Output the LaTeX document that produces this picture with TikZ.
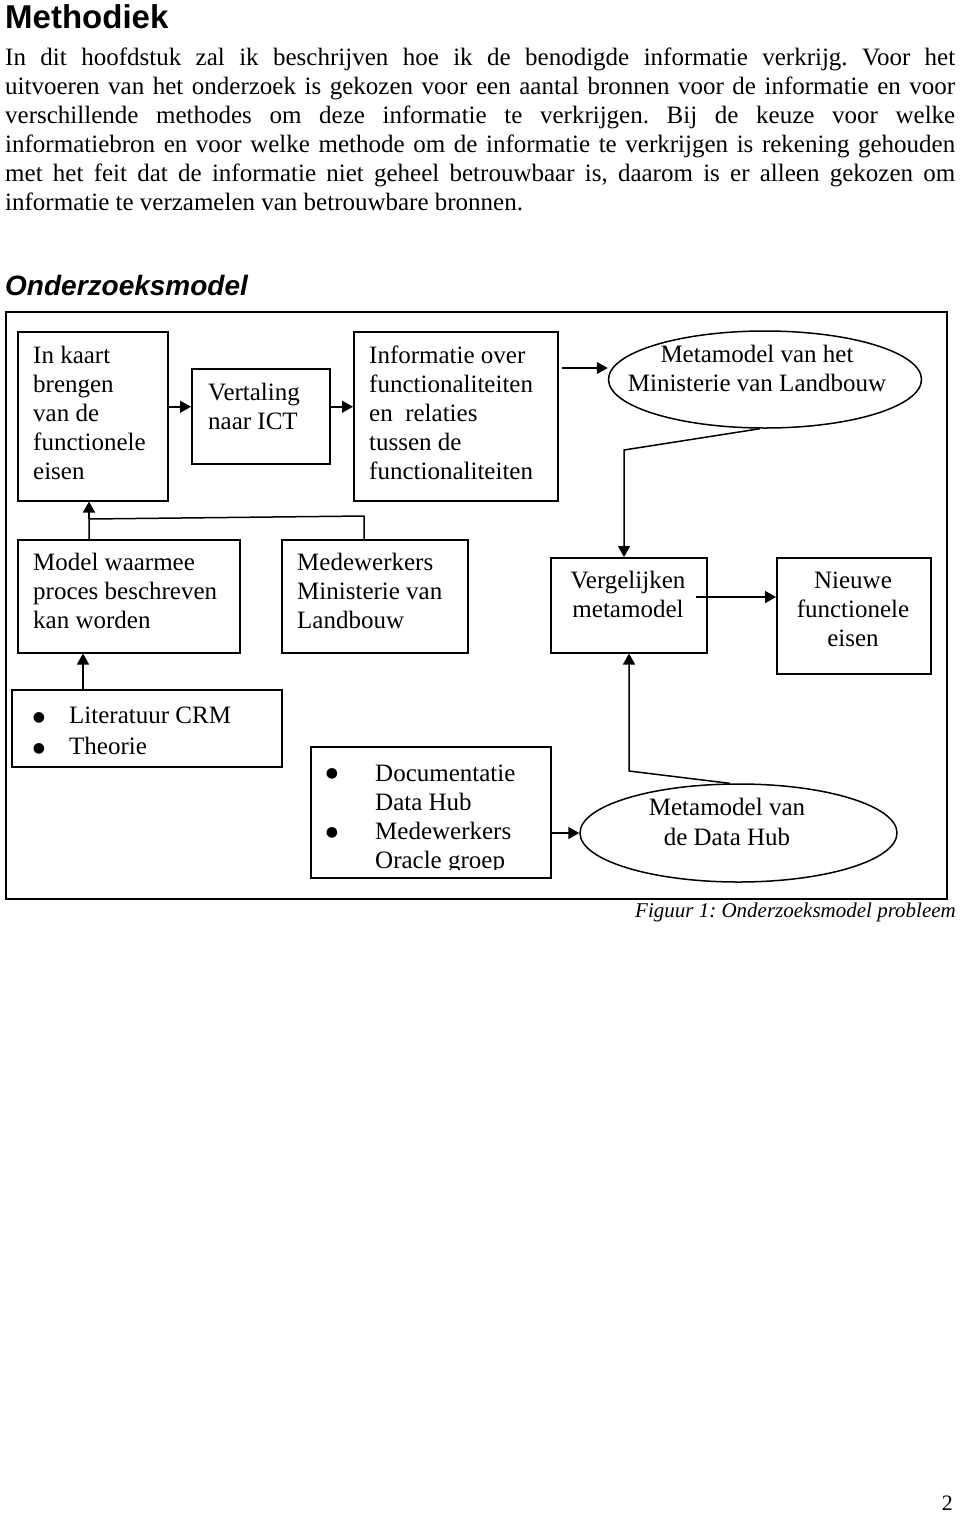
\documentclass[tikz,border=0pt]{standalone}
\usepackage{fontspec}
\setmainfont{Liberation Serif}
\newfontfamily\arialfont{Liberation Sans}
\newfontfamily\dejavufont{DejaVu Sans}
\usetikzlibrary{arrows.meta,shapes.geometric}
\frenchspacing
\newcommand\mylines[2][l]{\begin{tabular}[t]{@{}#1@{}}#2\end{tabular}}
\newcommand\jline[1]{\makebox[950pt][s]{#1}}
\newcommand\bodysize{\fontsize{25}{29}\selectfont}
\newcommand\bulsize{\dejavufont\fontsize{14}{17}\selectfont}
\begin{document}
\begin{tikzpicture}[x=1pt,y=-1pt,
  box/.style={draw, line width=1.5pt, rectangle, anchor=north west, inner sep=0pt},
  ell/.style={draw, line width=1.5pt, ellipse, inner sep=0pt},
  txt/.style={anchor=base west, inner sep=0pt, font=\bodysize},
  ctxt/.style={anchor=base, inner sep=0pt, font=\bodysize},
  bul/.style={anchor=base, inner sep=0pt, font=\bulsize},
  conn/.style={line width=1.5pt},
  arr/.style={line width=1.5pt, -{Triangle[length=11pt,width=12pt]}}]
\useasboundingbox (0,0) rectangle (960,1513);

% heading and paragraph
\node[anchor=base west, inner sep=0pt, font=\arialfont\bfseries\fontsize{33}{36}\selectfont] (h1) at (5,28) {Methodiek};
\node[txt] (par) at (5,65) {\mylines{%
\jline{In dit hoofdstuk zal ik beschrijven hoe ik de benodigde informatie verkrijg. Voor het}\\
\jline{uitvoeren van het onderzoek is gekozen voor een aantal bronnen voor de informatie en voor}\\
\jline{verschillende methodes om deze informatie te verkrijgen. Bij de keuze voor welke}\\
\jline{informatiebron en voor welke methode om de informatie te verkrijgen is rekening gehouden}\\
\jline{met het feit dat de informatie niet geheel betrouwbaar is, daarom is er alleen gekozen om}\\
informatie te verzamelen van betrouwbare bronnen.}};
\node[anchor=base west, inner sep=0pt, font=\arialfont\bfseries\itshape\fontsize{28}{32}\selectfont] (h2) at (5,295) {Onderzoeksmodel};

% frame
\node[box, minimum width=941pt, minimum height=587pt] (frame) at (5,311) {};

% boxes
\node[box, minimum width=150pt, minimum height=169pt] (A) at (17,331) {};
\node[box, minimum width=138pt, minimum height=95pt] (B) at (191,368) {};
\node[box, minimum width=204pt, minimum height=169pt] (C) at (353,331) {};
\node[ell, minimum width=313pt, minimum height=97pt] (D) at (765,379.5) {};
\node[box, minimum width=222pt, minimum height=113pt] (M) at (17,539) {};
\node[box, minimum width=186pt, minimum height=113pt] (N) at (281,539) {};
\node[box, minimum width=156pt, minimum height=95pt] (V) at (550,557) {};
\node[box, minimum width=154pt, minimum height=116pt] (W) at (776,557) {};
\node[box, minimum width=270pt, minimum height=77pt] (L) at (11,689) {};
\node[box, minimum width=240pt, minimum height=131pt] (F) at (310,746) {};
\node[ell, minimum width=317pt, minimum height=98pt] (E) at (738.5,833) {};

% texts
\node[txt] (tA) at (33,363) {\mylines{In kaart\\brengen\\van de\\functionele\\eisen}};
\node[txt] (tB) at (208,400) {\mylines{Vertaling\\naar ICT}};
\node[txt] (tC) at (369,363) {\mylines{Informatie over\\functionaliteiten\\en\ \ relaties\\tussen de\\functionaliteiten}};
\node[ctxt] (tD) at (757,362) {\mylines[c]{Metamodel van het\\Ministerie van Landbouw}};
\node[txt] (tM) at (33,570) {\mylines{Model waarmee\\proces beschreven\\kan worden}};
\node[txt] (tN) at (297,570) {\mylines{Medewerkers\\Ministerie van\\Landbouw}};
\node[ctxt] (tV) at (628,588) {\mylines[c]{Vergelijken\\metamodel}};
\node[ctxt] (tW) at (853,588) {\mylines[c]{Nieuwe\\functionele\\eisen}};
\node[bul] (bL1) at (39,721) {●};
\node[bul] (bL2) at (39,752) {●};
\node[txt, font=\fontsize{25}{31}\selectfont] (tL) at (69,723) {\mylines{Literatuur CRM\\Theorie}};
\begin{scope}
\clip (310,746) rectangle (550,869);
\node[bul] (bF1) at (332,777) {●};
\node[bul] (bF2) at (332,836) {●};
\node[txt] (tF) at (375,781) {\mylines{Documentatie\\Data Hub\\Medewerkers\\Oracle groep}};
\end{scope}
\node[ctxt, font=\fontsize{25}{30}\selectfont] (tE) at (727,815) {\mylines[c]{Metamodel van\\de Data Hub}};

% caption and page number
\node[anchor=base east, inner sep=0pt, font=\fontsize{21}{25}\selectfont\itshape] (cap) at (956,917) {Figuur 1: Onderzoeksmodel probleem};
\node[anchor=base east, inner sep=0pt, font=\fontsize{22}{26}\selectfont] (pg) at (953,1510) {2};

% connectors
\draw[arr] ([yshift=9.5pt]A.east) -- ([yshift=9.5pt]B.west);
\draw[arr] ([yshift=9.5pt]B.east) -- ([yshift=9.5pt]C.west);
\coordinate (cD) at (562,368);
\draw[arr] (cD) -- (cD -| D.west);
\coordinate (b1) at (624,450);
\draw[arr] (D.264) -- (b1) -- (b1 |- V.north);
\coordinate (v1) at (696,597);
\draw[arr] (v1) -- (v1 -| W.west);
\coordinate (b2) at (629,771);
\draw[arr] (E.100) -- (b2) -- (b2 |- V.south);
\draw[arr] (F.east |- E.west) -- (E.west);
\coordinate (j1) at (89,519);
\coordinate (j2) at (364,516);
\draw[conn] (j1 |- M.north) -- (j1) -- (j2) -- (j2 |- N.north);
\draw[arr] (j1) -- (j1 |- A.south);
\coordinate (k1) at (83,689);
\draw[arr] (k1) -- (k1 |- M.south);
\end{tikzpicture}
\end{document}
